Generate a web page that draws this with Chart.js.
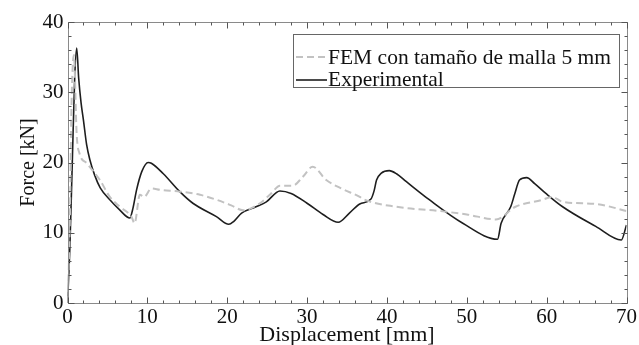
<!DOCTYPE html>
<html>
<head>
<meta charset="utf-8">
<script src="https://cdn.jsdelivr.net/npm/chart.js@4.4.1/dist/chart.umd.min.js"></script>
<style>
html,body{margin:0;padding:0;background:#fff;}
#wrap{width:639px;height:345px;}
</style>
</head>
<body>
<div id="wrap"><canvas id="c" width="639" height="345"></canvas></div>
<script>
const xTicks = [0, 10, 20, 30, 40, 50, 60, 70];
const yTicks = [0, 10, 20, 30, 40];
const seriesLabels = ["FEM con tamaño de malla 5 mm", "Experimental"];
const xTitle = "Displacement [mm]";
const yTitle = "Force [kN]";

const femX = [0, 0.3, 0.5, 0.8, 1.15, 1.5, 2.4, 4.06, 5.3, 6.56, 8.0, 8.4, 9.06, 9.6, 10.5, 11.6, 14.1, 16.6, 18.65, 20.5, 22, 24.1, 25.5, 26.6, 28.2, 29.5, 30.7, 32.4, 34.5, 36.6, 37, 41.15, 46.6, 50, 53.65, 56.1, 59.5, 60.7, 62, 66.15, 70];
const femY = [0, 12, 28, 35.3, 24, 21.3, 19.9, 17.5, 15.1, 13.7, 12.3, 11.35, 15.4, 15.1, 16.3, 16.1, 15.85, 15.4, 14.7, 13.9, 13.2, 14.2, 15.6, 16.7, 16.7, 18, 19.4, 17.5, 16.2, 15.1, 14.8, 13.7, 13.1, 12.6, 11.9, 13.7, 14.7, 15.1, 14.4, 14.1, 13.1];

const expX = [0, 0.3, 0.6, 0.9, 1.15, 1.4, 1.7, 2.0, 2.4, 2.8, 3.4, 4.1, 5.3, 6.5, 7.8, 8.2, 8.65, 9.3, 10.1, 10.5, 12, 14.06, 15.7, 18.65, 20.2, 20.8, 21.8, 23.6, 24.9, 26.6, 28, 30, 32, 33.9, 35.3, 36.6, 38.0, 38.4, 38.7, 39.3, 40.3, 41.2, 42.4, 45.3, 49.5, 53.85, 54.3, 55.5, 56.0, 56.6, 57.5, 58.5, 59.9, 62.0, 66.15, 69.35, 70];
const expY = [0, 8, 20, 32, 36.3, 32, 28.5, 26, 22.5, 20.4, 18.2, 16.4, 14.7, 13.3, 12.1, 13.5, 16.1, 18.7, 20.0, 19.9, 18.4, 15.85, 14.2, 12.3, 11.2, 11.6, 12.8, 13.7, 14.4, 15.95, 15.6, 14.2, 12.6, 11.5, 12.8, 14.1, 14.8, 16, 17.5, 18.5, 18.85, 18.4, 17.3, 14.7, 11.35, 9.07, 11.35, 13.7, 15.5, 17.5, 17.85, 17, 15.6, 13.7, 10.9, 8.97, 11.1];

const toPts = (xs, ys) => xs.map((x, i) => ({x: x, y: ys[i]}));
const SERIF = "'Liberation Serif', 'DejaVu Serif', serif";

const framePlugin = {
  id: 'frame',
  afterDraw(chart) {
    const ctx = chart.ctx;
    const a = chart.chartArea;
    const xs = chart.scales.x, ys = chart.scales.y;
    ctx.save();
    ctx.strokeStyle = '#8a8a8a';
    ctx.lineWidth = 1;
    const L = Math.round(a.left) + 0.5, R = Math.round(a.right) + 0.5;
    const T = Math.round(a.top) + 0.5, B = Math.round(a.bottom) + 0.5;
    ctx.beginPath();
    ctx.rect(L, T, R - L, B - T);
    ctx.stroke();
    ctx.strokeStyle = '#555';
    ctx.beginPath();
    for (let v = xs.min; v <= xs.max + 1e-9; v += 2) {
      const p = Math.round(xs.getPixelForValue(v)) + 0.5;
      const len = (Math.abs(v % 10) < 1e-9) ? 6 : 3;
      ctx.moveTo(p, B); ctx.lineTo(p, B - len);
      ctx.moveTo(p, T); ctx.lineTo(p, T + len);
    }
    for (let v = ys.min; v <= ys.max + 1e-9; v += 2) {
      const p = Math.round(ys.getPixelForValue(v)) + 0.5;
      const len = (Math.abs(v % 10) < 1e-9) ? 6 : 3;
      ctx.moveTo(L, p); ctx.lineTo(L + len, p);
      ctx.moveTo(R, p); ctx.lineTo(R - len, p);
    }
    ctx.stroke();

    // legend
    const bx = 293.5, by = 34.5, bw = 326, bh = 53;
    ctx.fillStyle = '#fff';
    ctx.fillRect(bx, by, bw, bh);
    ctx.strokeStyle = '#666';
    ctx.strokeRect(bx, by, bw, bh);
    const rows = [57, 80];
    const baselines = [63.5, 86];
    chart.data.datasets.forEach((ds, i) => {
      ctx.save();
      ctx.strokeStyle = ds.borderColor;
      ctx.lineWidth = ds.borderWidth;
      ctx.setLineDash(ds.borderDash || []);
      ctx.beginPath();
      ctx.moveTo(296, rows[i]);
      ctx.lineTo(327, rows[i]);
      ctx.stroke();
      ctx.restore();
      ctx.fillStyle = '#111';
      ctx.font = "21.5px " + SERIF;
      ctx.textBaseline = 'alphabetic';
      ctx.textAlign = 'left';
      ctx.fillText(ds.label, 328, baselines[i]);
    });
    ctx.restore();
  }
};

new Chart(document.getElementById('c'), {
  type: 'line',
  data: {
    datasets: [
      {
        label: seriesLabels[0],
        data: toPts(femX, femY),
        borderColor: '#c2c2c2',
        borderWidth: 2,
        borderDash: [7, 4],
        pointRadius: 0,
        fill: false,
        cubicInterpolationMode: 'monotone'
      },
      {
        label: seriesLabels[1],
        data: toPts(expX, expY),
        borderColor: '#1e1e1e',
        borderWidth: 1.6,
        pointRadius: 0,
        fill: false,
        cubicInterpolationMode: 'monotone'
      }
    ]
  },
  options: {
    responsive: false,
    animation: false,
    events: [],
    layout: { padding: { top: 22, right: 11, left: 0, bottom: 0 } },
    plugins: { legend: { display: false }, tooltip: { enabled: false } },
    scales: {
      x: {
        type: 'linear',
        min: 0, max: 70,
        afterBuildTicks: s => { s.ticks = xTicks.map(v => ({value: v})); },
        afterFit: s => { s.height = 42; },
        grid: { display: false, drawTicks: false },
        border: { display: false },
        ticks: { font: { family: SERIF, size: 21 }, color: '#111', padding: 2, maxRotation: 0 },
        title: { display: true, text: xTitle, color: '#111', font: { family: SERIF, size: 22 }, padding: { top: 0, bottom: -3 } }
      },
      y: {
        min: 0, max: 40,
        afterBuildTicks: s => { s.ticks = yTicks.map(v => ({value: v})); },
        afterFit: s => { s.width = 67.5; },
        grid: { display: false, drawTicks: false },
        border: { display: false },
        ticks: { font: { family: SERIF, size: 21 }, color: '#111', padding: 4 },
        title: { display: true, text: yTitle, color: '#111', font: { family: SERIF, size: 20 }, padding: { top: 17, bottom: 0 } }
      }
    }
  },
  plugins: [framePlugin]
});
</script>
</body>
</html>
